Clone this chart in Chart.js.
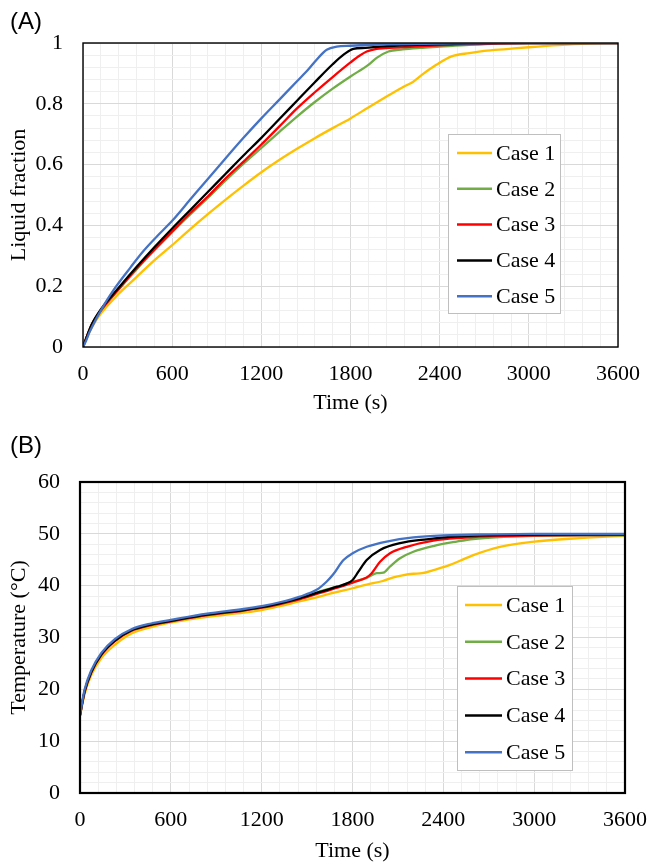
<!doctype html>
<html>
<head>
    <meta charset="utf-8">
    <title>Liquid fraction and temperature</title>
    <script src="https://cdn.jsdelivr.net/npm/chart.js"></script>
    <style>
        body { margin: 0; background: #fff; }
        #wrap { position: relative; width: 650px; height: 864px; }
        .box { position: absolute; left: 0; width: 650px; }
        .panel { position: absolute; left: 10px; font: 24px 'Liberation Sans', Arial, sans-serif; color: #000; }
    </style>
</head>
<body>
<div id="wrap">
    <div class="box" style="top:0;height:420px"><canvas id="chartA" width="650" height="420"></canvas></div>
    <div class="box" style="top:420px;height:444px"><canvas id="chartB" width="650" height="444"></canvas></div>
    <div class="panel" style="top:7px">(A)</div>
    <div class="panel" style="top:431px">(B)</div>
</div>

<script>
    // series names and colours
    var caseNames = ['Case 1', 'Case 2', 'Case 3', 'Case 4', 'Case 5'];
    var caseColors = ['#FFC000', '#70AD47', '#FF0000', '#000000', '#4472C4'];

    // (A) liquid fraction, time in s
    var tA1 = [0, 30, 60, 120, 240, 360, 480, 600, 720, 840, 960, 1080, 1200, 1320, 1440, 1560, 1680, 1800, 1920, 2040, 2160, 2220, 2280, 2380, 2480, 2600, 2700, 2850, 3000, 3200, 3400, 3600];
    var fA1 = [0, 0.035, 0.065, 0.11, 0.175, 0.23, 0.285, 0.335, 0.387, 0.437, 0.485, 0.531, 0.575, 0.615, 0.652, 0.687, 0.72, 0.752, 0.788, 0.823, 0.857, 0.872, 0.895, 0.929, 0.956, 0.967, 0.974, 0.98, 0.986, 0.993, 0.998, 1.0];
    var tA2 = [0, 30, 60, 120, 240, 360, 480, 600, 720, 840, 960, 1080, 1200, 1320, 1440, 1560, 1680, 1800, 1920, 1976, 2055, 2150, 2268, 2400, 2600, 2800, 3000, 3600];
    var fA2 = [0, 0.04, 0.075, 0.12, 0.19, 0.255, 0.318, 0.378, 0.435, 0.49, 0.548, 0.603, 0.655, 0.707, 0.758, 0.806, 0.85, 0.89, 0.928, 0.951, 0.972, 0.979, 0.984, 0.988, 0.994, 0.998, 1.0, 1.0];
    var tA3 = [0, 30, 60, 120, 240, 360, 480, 600, 720, 840, 960, 1080, 1200, 1320, 1440, 1560, 1680, 1800, 1860, 1909, 1976, 2100, 2300, 2600, 3000, 3600];
    var fA3 = [0, 0.04, 0.074, 0.12, 0.19, 0.258, 0.32, 0.38, 0.44, 0.495, 0.555, 0.61, 0.666, 0.725, 0.785, 0.838, 0.888, 0.936, 0.958, 0.972, 0.981, 0.985, 0.99, 0.996, 1.0, 1.0];
    var tA4 = [0, 30, 60, 120, 240, 360, 480, 600, 720, 840, 960, 1080, 1200, 1320, 1440, 1560, 1680, 1760, 1819, 1900, 2000, 2200, 2500, 2800, 3600];
    var fA4 = [0, 0.04, 0.076, 0.124, 0.195, 0.263, 0.328, 0.39, 0.45, 0.51, 0.57, 0.63, 0.688, 0.749, 0.81, 0.871, 0.93, 0.964, 0.981, 0.984, 0.988, 0.993, 0.997, 1.0, 1.0];
    var tA5 = [0, 20, 45, 135, 224, 320, 404, 500, 600, 720, 840, 960, 1080, 1200, 1320, 1440, 1520, 1572, 1610, 1640, 1707, 1800, 2000, 2400, 2800, 3600];
    var fA5 = [0, 0.02, 0.05, 0.133, 0.2, 0.262, 0.314, 0.365, 0.415, 0.484, 0.553, 0.621, 0.688, 0.752, 0.813, 0.874, 0.915, 0.945, 0.965, 0.978, 0.988, 0.991, 0.995, 0.998, 1.0, 1.0];

    // (B) temperature in degC
    var tB1 = [0, 30, 75, 140, 230, 340, 470, 600, 840, 1080, 1200, 1320, 1453, 1563, 1673, 1800, 1894, 2000, 2070, 2130, 2202, 2260, 2334, 2444, 2510, 2598, 2774, 3001, 3259, 3600];
    var TB1 = [15, 19.0, 22.8, 26.0, 28.6, 30.8, 32.0, 32.9, 34.0, 34.8, 35.3, 36.05, 37.0, 37.75, 38.6, 39.5, 40.2, 40.9, 41.6, 42.0, 42.3, 42.4, 43.0, 44.0, 44.8, 45.9, 47.5, 48.5, 49.1, 49.6];
    var tB2 = [0, 30, 75, 140, 230, 340, 470, 600, 840, 1080, 1200, 1320, 1453, 1585, 1700, 1801, 1894, 1960, 2004, 2048, 2114, 2202, 2334, 2488, 2598, 2800, 3000, 3600];
    var TB2 = [15, 19.5, 23.3, 26.6, 29.3, 31.3, 32.4, 33.1, 34.3, 35.2, 35.75, 36.45, 37.5, 38.9, 39.8, 40.7, 41.5, 42.4, 42.5, 43.7, 45.3, 46.55, 47.65, 48.5, 49.0, 49.4, 49.6, 49.7];
    var tB3 = [0, 30, 75, 140, 230, 340, 470, 600, 840, 1080, 1200, 1320, 1453, 1585, 1700, 1801, 1894, 1927, 1982, 2048, 2158, 2334, 2500, 2800, 3600];
    var TB3 = [15, 19.5, 23.3, 26.6, 29.3, 31.3, 32.4, 33.1, 34.3, 35.2, 35.75, 36.45, 37.4, 38.6, 39.6, 40.6, 41.6, 42.4, 44.6, 46.25, 47.5, 48.7, 49.2, 49.6, 49.8];
    var tB4 = [0, 30, 75, 140, 230, 340, 470, 600, 840, 1080, 1200, 1320, 1453, 1585, 1700, 1760, 1801, 1839, 1894, 1982, 2114, 2290, 2450, 2700, 3000, 3600];
    var TB4 = [15, 19.6, 23.4, 26.7, 29.4, 31.4, 32.5, 33.2, 34.4, 35.3, 35.85, 36.6, 37.6, 38.8, 39.8, 40.4, 41.1, 42.7, 44.95, 46.9, 48.2, 48.95, 49.4, 49.7, 49.85, 49.9];
    var tB5 = [0, 30, 75, 140, 230, 340, 470, 600, 840, 1080, 1200, 1320, 1453, 1563, 1630, 1673, 1739, 1801, 1894, 2026, 2202, 2400, 2700, 3000, 3600];
    var TB5 = [15, 19.9, 23.7, 27.0, 29.7, 31.6, 32.7, 33.4, 34.6, 35.5, 36.05, 36.8, 37.9, 39.2, 40.8, 42.2, 44.9, 46.25, 47.5, 48.5, 49.3, 49.7, 49.9, 50.0, 50.0];

    Chart.defaults.font.family = "'Liberation Serif', 'Times New Roman', serif";
    Chart.defaults.font.size = 22;
    Chart.defaults.color = '#000';

    function pairs(t, v) {
        return t.map(function (x, i) { return {x: x, y: v[i]}; });
    }

    function isMajor(v, step) {
        var r = v / step;
        return Math.abs(r - Math.round(r)) < 1e-6;
    }

    // border round the plot plus the boxed legend inside it
    var framePlugin = {
        id: 'frame',
        afterDraw: function (chart, args, opts) {
            var ctx = chart.ctx, a = chart.chartArea;
            ctx.save();
            ctx.strokeStyle = '#000';
            ctx.lineWidth = opts.border;
            ctx.strokeRect(a.left, a.top, a.right - a.left, a.bottom - a.top);

            var lg = opts.legend;
            ctx.fillStyle = '#fff';
            ctx.fillRect(lg.x, lg.y, lg.w, lg.h);
            ctx.strokeStyle = '#bfbfbf';
            ctx.lineWidth = 1;
            ctx.strokeRect(lg.x + 0.5, lg.y + 0.5, lg.w, lg.h);
            ctx.font = "22px 'Liberation Serif', 'Times New Roman', serif";
            ctx.textBaseline = 'middle';
            ctx.textAlign = 'left';
            chart.data.datasets.forEach(function (ds, i) {
                var y = lg.row0 + i * lg.rowGap;
                ctx.strokeStyle = ds.borderColor;
                ctx.lineWidth = 2.5;
                ctx.beginPath();
                ctx.moveTo(lg.lineX0, y);
                ctx.lineTo(lg.lineX1, y);
                ctx.stroke();
                ctx.fillStyle = '#000';
                ctx.fillText(ds.label, lg.textX, y + 1);
            });
            ctx.restore();
        }
    };

    function makeChart(id, tList, vList, cfg) {
        var datasets = caseNames.map(function (name, i) {
            return {
                label: name,
                data: pairs(tList[i], vList[i]),
                borderColor: caseColors[i],
                backgroundColor: caseColors[i],
                borderWidth: 2.3,
                pointRadius: 0,
                cubicInterpolationMode: 'monotone',
                fill: false,
                order: caseNames.length - i
            };
        });

        return new Chart(document.getElementById(id), {
            type: 'line',
            data: {datasets: datasets},
            plugins: [framePlugin],
            options: {
                responsive: false,
                animation: false,
                layout: {padding: {top: cfg.padTop, right: cfg.padRight, left: 0, bottom: 0}},
                plugins: {
                    legend: {display: false},
                    tooltip: {enabled: false},
                    frame: {border: cfg.border, legend: cfg.legend}
                },
                scales: {
                    x: {
                        type: 'linear',
                        min: 0,
                        max: 3600,
                        afterFit: function (s) {
                            s.height = cfg.xHeight;
                            s.paddingLeft = 0;
                            s.paddingRight = 0;
                        },
                        border: {display: false},
                        grid: {
                            drawTicks: false,
                            color: function (c) { return isMajor(c.tick.value, 600) ? '#d9d9d9' : '#efefef'; }
                        },
                        ticks: {
                            stepSize: 120,
                            maxTicksLimit: 100,
                            autoSkip: false,
                            maxRotation: 0,
                            padding: 14,
                            callback: function (v) { return isMajor(v, 600) ? String(Math.round(v)) : ''; }
                        },
                        title: {display: true, text: 'Time (s)', padding: {top: 0, bottom: cfg.xTitlePad}}
                    },
                    y: {
                        min: cfg.yMin,
                        max: cfg.yMax,
                        afterFit: function (s) { s.width = cfg.yWidth; },
                        border: {display: false},
                        grid: {
                            drawTicks: false,
                            color: function (c) { return isMajor(c.tick.value, cfg.yMajor) ? '#d9d9d9' : '#efefef'; }
                        },
                        ticks: {
                            stepSize: cfg.yMinor,
                            maxTicksLimit: 100,
                            autoSkip: false,
                            padding: 20,
                            callback: function (v) {
                                return isMajor(v, cfg.yMajor) ? String(Math.round(v * 10) / 10) : '';
                            }
                        },
                        title: {display: true, text: cfg.yTitle, padding: {top: 6, bottom: 0}}
                    }
                }
            }
        });
    }

    makeChart('chartA', [tA1, tA2, tA3, tA4, tA5], [fA1, fA2, fA3, fA4, fA5], {
        padTop: 43, padRight: 32, xHeight: 73, yWidth: 83, xTitlePad: 4,
        yMin: 0, yMax: 1, yMajor: 0.2, yMinor: 0.04, yTitle: 'Liquid fraction', border: 1.4,
        legend: {x: 448, y: 134, w: 112, h: 179, row0: 153, rowGap: 35.8, lineX0: 457, lineX1: 492, textX: 496}
    });

    makeChart('chartB', [tB1, tB2, tB3, tB4, tB5], [TB1, TB2, TB3, TB4, TB5], {
        padTop: 62, padRight: 25, xHeight: 71, yWidth: 80, xTitlePad: 0,
        yMin: 0, yMax: 60, yMajor: 10, yMinor: 2, yTitle: 'Temperature (°C)', border: 2.2,
        legend: {x: 457, y: 166, w: 115, h: 184, row0: 185, rowGap: 36.8, lineX0: 465, lineX1: 502, textX: 506}
    });
</script>
</body>
</html>
